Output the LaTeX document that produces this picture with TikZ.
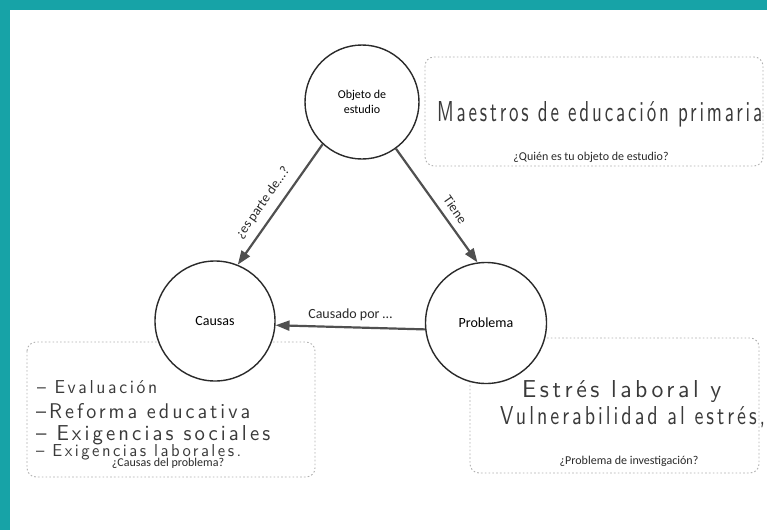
\documentclass[tikz,border=0pt]{standalone}
\usepackage{fontspec}
\setmainfont{Carlito}
\newfontfamily\handfont{lmsans10-regular.otf}[LetterSpace=15]
\usetikzlibrary{arrows.meta}
\definecolor{tealband}{HTML}{17A3A7}
\definecolor{ink}{HTML}{2A2A2A}
\definecolor{arrowgray}{HTML}{505050}
\definecolor{dotgray}{HTML}{B0B0B0}
\definecolor{handink}{HTML}{3A3A3A}
\newcommand{\handtext}[3]{\resizebox{#1}{#2}{\handfont #3}}
\begin{document}
\begin{tikzpicture}[x=1pt,y=-1pt,
  bubble/.style={circle, draw=ink, fill=white, line width=1.4pt, inner sep=0pt, align=center, font=\fontsize{14}{16}\selectfont},
  conn/.style={draw=arrowgray, line width=2.2pt, -{Triangle[length=14pt,width=10pt]}},
  lbl/.style={text=ink, inner sep=4pt, font=\fontsize{13.5}{15}\selectfont},
  captxt/.style={text=ink, font=\fontsize{12}{14}\selectfont},
  dotbox/.style={draw=dotgray, line width=0.9pt, dash pattern=on 1.6pt off 2.2pt, rounded corners=9pt},
  hand/.style={text=handink, inner sep=0pt, anchor=base west}]
\useasboundingbox (0,0) rectangle (767,530);
\fill[white] (0,0) rectangle (767,530);
\fill[tealband] (0,0) rectangle (767,10);
\fill[tealband] (0,0) rectangle (10,530);
% boxes
\draw[dotbox] (425,57) rectangle (763,166);
\draw[dotbox] (27,342) rectangle (315,477);
\draw[dotbox] (470,338) rectangle (759,473);
% circles
\node[bubble, minimum size=114pt, font=\fontsize{12}{14.5}\selectfont] (obj) at (362,102) {Objeto de\\estudio};
\node[bubble, minimum size=120pt] (cau) at (215,321) {Causas};
\node[bubble, minimum size=121pt] (prob) at (486,323) {Problema};
% connectors
\draw[conn] (obj.227) -- node[lbl, pos=0.56, rotate=55, anchor=south, inner sep=8pt] {¿es parte de...?} (cau.68);
\draw[conn] (obj.306) -- node[lbl, pos=0.6, rotate=-55, anchor=south, inner sep=7pt] {Tiene} (prob.98);
\draw[conn] (prob.186) -- node[lbl, midway, anchor=south, inner sep=5pt, font=\fontsize{14}{16}\selectfont] {Causado por …} (cau.356);
% handwritten contents
\node[hand] (h1) at (437,121) {\handtext{325pt}{20pt}{Maestros de educación primaria}};
\node[captxt] (c1) at (591,157) {¿Quién es tu objeto de estudio?};
\node[hand] (h2) at (37,393) {\handtext{120pt}{13pt}{– Evaluación}};
\node[hand] (h3) at (36,418) {\handtext{214pt}{15pt}{–Reforma educativa}};
\node[hand] (h4) at (36,440) {\handtext{234pt}{15pt}{– Exigencias sociales}};
\node[hand] (h5) at (36,456) {\handtext{205pt}{12pt}{– Exigencias laborales.}};
\node[captxt] (c2) at (168,463) {¿Causas del problema?};
\node[hand] (h6) at (522,397) {\handtext{199pt}{17pt}{Estrés laboral y}};
\node[hand] (h7) at (500,424) {\handtext{265pt}{18pt}{Vulnerabilidad al estrés,}};
\node[captxt] (c3) at (629,461) {¿Problema de investigación?};
\end{tikzpicture}
\end{document}
